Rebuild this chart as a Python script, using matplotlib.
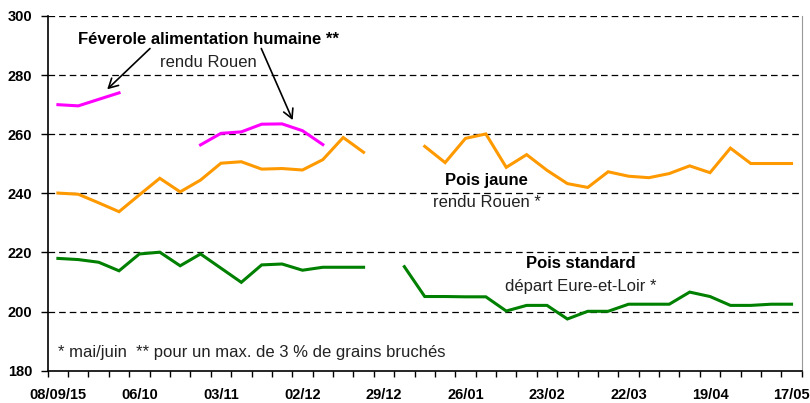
import numpy as np
import matplotlib
matplotlib.use("Agg")
import matplotlib.pyplot as plt
from matplotlib.ticker import MultipleLocator, FixedLocator

plt.rcParams['font.family'] = ['Liberation Sans', 'DejaVu Sans']

nan = np.nan
# weekly categories 0..36, labelled every 4 weeks
tick_labels = ['08/09/15', '06/10', '03/11', '02/12', '29/12',
               '26/01', '23/02', '22/03', '19/04', '17/05']

pois_standard = [218.0, 217.6, 216.7, 213.8, 219.5, 220.1, 215.5, 219.5, 214.7, 209.9,
                 215.8, 216.1, 214.0, 215.0, 215.0, 215.0, nan, 215.2, 205.1, 205.1,
                 205.0, 205.0, 200.2, 202.1, 202.1, 197.5, 200.1, 200.1, 202.5, 202.5,
                 202.5, 206.6, 205.1, 202.1, 202.1, 202.5, 202.5]

pois_jaune = [240.1, 239.7, 236.8, 233.8, 239.5, 245.1, 240.5, 244.5, 250.2, 250.7,
              248.2, 248.4, 247.9, 251.4, 258.9, 253.9, nan, nan, 255.9, 250.4,
              258.6, 260.1, 248.8, 253.1, 247.8, 243.3, 242.0, 247.3, 245.8, 245.3,
              246.7, 249.3, 247.0, 255.3, 250.1, 250.1, 250.1]

feverole = [270.0, 269.6, 271.8, 274.0, nan, nan, nan, 256.4, 260.3, 260.8,
            263.4, 263.5, 261.2, 256.5] + [nan] * 23

x = np.arange(len(pois_standard))

fig = plt.figure(figsize=(8.10, 4.03), dpi=100)
ax = fig.add_axes([0.0589, 0.0801, 0.9309, 0.8802])

ax.plot(x, pois_jaune, color='#FF9900', lw=2.2, solid_joinstyle='miter')
ax.plot(x, pois_standard, color='#008000', lw=2.2, solid_joinstyle='miter')
ax.plot(x, feverole, color='#FF00FF', lw=2.2, solid_joinstyle='miter')

ax.set_xlim(-0.5, len(x) - 0.5)
ax.set_ylim(180, 300)

# gridlines
for v in range(200, 301, 20):
    ax.axhline(v, color='black', lw=0.9, dashes=(5.3, 3.2), zorder=0)

ax.yaxis.set_major_locator(MultipleLocator(20))
ax.tick_params(axis='y', direction='out', length=5, width=1, labelsize=10.5, pad=6)
for lab in ax.get_yticklabels():
    lab.set_fontweight('bold')

ax.xaxis.set_major_locator(FixedLocator(np.arange(0, len(x), 4)))
ax.set_xticklabels(tick_labels, fontweight='bold', fontsize=10.5)
ax.xaxis.set_minor_locator(FixedLocator(np.arange(-0.5, len(x), 1.0)))
ax.tick_params(axis='x', which='major', length=0, pad=12.5)
ax.tick_params(axis='x', which='minor', direction='out', length=4, width=1)

ax.spines['top'].set_visible(False)
ax.spines['right'].set_color('#999999')
ax.spines['left'].set_linewidth(1.2)
ax.spines['bottom'].set_linewidth(1.2)

txtc = '#222222'
# annotations
ax.text(7.39, 291.9, 'Féverole alimentation humaine **', fontsize=12, fontweight='bold',
        ha='center', va='center')
ax.text(7.39, 284.4, 'rendu Rouen', fontsize=12, ha='center', va='center', color=txtc)
aprops = dict(arrowstyle='->, head_length=0.55, head_width=0.3', color='black', lw=1.2,
              mutation_scale=12, shrinkA=0, shrinkB=0)
ax.annotate('', xy=(2.42, 275.2), xytext=(4.52, 289.0), arrowprops=aprops)
ax.annotate('', xy=(11.52, 264.8), xytext=(9.98, 289.0), arrowprops=aprops)

ax.text(21.04, 244.2, 'Pois jaune', fontsize=12, fontweight='bold', ha='center', va='center')
ax.text(21.04, 236.9, 'rendu Rouen *', fontsize=12, ha='center', va='center', color=txtc)

ax.text(25.67, 216.2, 'Pois standard', fontsize=12, fontweight='bold', ha='center', va='center')
ax.text(25.67, 208.6, 'départ Eure-et-Loir *', fontsize=12, ha='center', va='center',
        color=txtc)

ax.text(0.0, 186.2, '* mai/juin  ** pour un max. de 3 % de grains bruchés', fontsize=12,
        ha='left', va='center', color=txtc)

fig.savefig('out.png', dpi=100)
